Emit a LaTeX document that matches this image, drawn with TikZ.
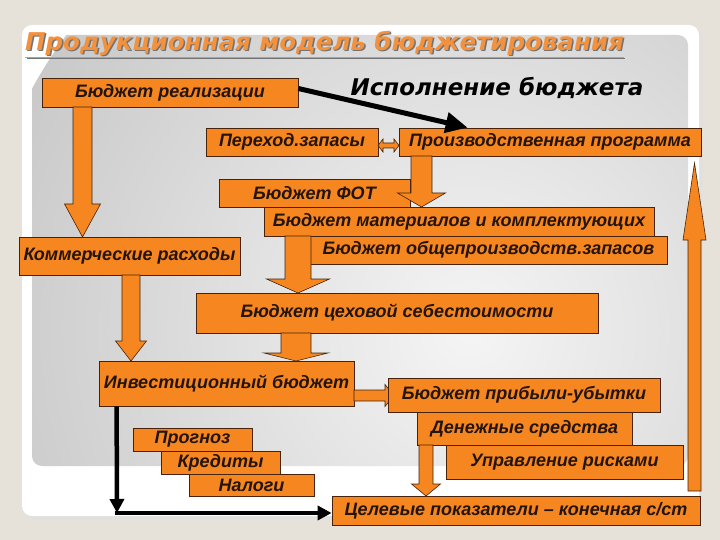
\documentclass[tikz,border=0pt]{standalone}
\usepackage{fontspec}
\setmainfont{Liberation Sans}
\newfontfamily\dejavu{DejaVu Sans}
\usetikzlibrary{arrows.meta,calc}
\definecolor{bg}{RGB}{230,225,217}
\definecolor{org}{RGB}{246,134,31}
\definecolor{edge}{RGB}{70,35,10}
\definecolor{txt}{RGB}{35,20,12}
\definecolor{ttl}{RGB}{243,146,62}
\newcommand\bx[6]{\node[box, minimum width={(#4-#2)*1pt}, minimum height={(#5-#3)*1pt}] (#1) at ({(#2+#4)/2},{(#3+#5)/2}) {#6};}
\newcommand\bdown[6]{\filldraw[barrow] ({#1-#4},#2) -- ({#1+#4},#2) -- ({#1+#4},{#3-#6}) -- ({#1+#5},{#3-#6}) -- (#1,#3) -- ({#1-#5},{#3-#6}) -- ({#1-#4},{#3-#6}) -- cycle;}
\newcommand\bup[6]{\filldraw[barrow] ({#1-#4},#2) -- ({#1+#4},#2) -- ({#1+#4},{#3+#6}) -- ({#1+#5},{#3+#6}) -- (#1,#3) -- ({#1-#5},{#3+#6}) -- ({#1-#4},{#3+#6}) -- cycle;}
\newcommand\bright[6]{\filldraw[barrow] (#2,{#1-#4}) -- ({#3-#6},{#1-#4}) -- ({#3-#6},{#1-#5}) -- (#3,#1) -- ({#3-#6},{#1+#5}) -- ({#3-#6},{#1+#4}) -- (#2,{#1+#4}) -- cycle;}
\begin{document}
\begin{tikzpicture}[x=1pt,y=-1pt,
 box/.style={draw=edge, line width=0.8pt, fill=org, text=txt, font=\fontsize{18}{20}\selectfont\bfseries\itshape, inner sep=0pt},
 barrow/.style={fill=org, draw=edge, line width=0.6pt},
 blk/.style={draw=black, line width=4.5pt, -{Triangle[length=14pt,width=14pt]}}]
\useasboundingbox (0,0) rectangle (720,540);
\fill[bg] (0,0) rectangle (720,540);
\fill[black!12, rounded corners=10pt] (24,28) rectangle (702,519);
\fill[white, rounded corners=10pt] (22,25) rectangle (699,516);
\begin{scope}
\clip[rounded corners=10pt] (32,35) rectangle (688,466);
\shade[inner color=gray!8, outer color=gray!42] (470,330) circle (500pt);
\end{scope}
% title
\node[anchor=west, font=\dejavu\fontsize{24.5}{27}\selectfont\bfseries\itshape, text=black!55, inner sep=0pt] at (26.5,45.5) {\underline{Продукционная модель бюджетирования}};
\node[anchor=west, font=\dejavu\fontsize{24.5}{27}\selectfont\bfseries\itshape, text=ttl, inner sep=0pt] (title) at (25,44) {\underline{Продукционная модель бюджетирования}};
\node[font=\dejavu\fontsize{23}{26}\selectfont\bfseries\itshape, text=black, inner sep=0pt] (isp) at (497,88) {Исполнение бюджета};
% boxes
\bx{real}{42}{78}{298}{107}{Бюджет реализации}
\bx{perex}{206}{128}{378}{156}{Переход.запасы}
\bx{prod}{399}{128}{701}{156}{Производственная программа}
\filldraw[barrow] (378,145.5) -- (383,139) -- (383,143) -- (394,143) -- (394,139) -- (399,145.5) -- (394,152) -- (394,148) -- (383,148) -- (383,152) -- cycle;
\bx{fot}{219}{179}{410}{207}{Бюджет ФОТ}
\bx{mat}{264}{207}{654}{236}{Бюджет материалов и комплектующих}
\bx{obsh}{310}{236}{667}{264}{Бюджет общепроизводств.запасов}
\bdown{421.5}{156}{207}{10.5}{24}{14}
\bdown{82.5}{107}{237}{9.5}{18}{33}
\bx{komm}{19}{237}{240}{275}{Коммерческие расходы}
\bdown{298}{236}{293}{13}{31.5}{14}
\bx{cex}{196}{293}{598}{333}{Бюджет цеховой себестоимости}
\bdown{131}{275}{361}{9}{15.5}{20}
\bdown{296}{333}{361}{15}{32}{8}
\bx{inv}{99}{361}{354}{406}{Инвестиционный бюджет}
\bright{395.5}{354}{394}{5.5}{11}{9}
\bx{prib}{388}{378}{660}{412}{Бюджет прибыли-убытки}
\bx{den}{417}{412}{632}{445}{Денежные средства}
\bx{upr}{446}{445}{683}{479}{Управление рисками}
\bdown{426}{445}{496}{7}{14.5}{12}
\bx{prog}{133}{428}{252}{451}{Прогноз}
\bx{kred}{161}{451}{280}{474}{Кредиты}
\bx{nal}{189}{474}{314}{496}{Налоги}
\bx{cel}{332}{496}{700}{525}{Целевые показатели – конечная с/ст}
\bup{694.5}{491}{163}{6.5}{11.5}{77}
% black arrows
\draw[draw=black, line width=5pt, -{Triangle[length=22pt,width=20pt]}] ($(real.east)+(0,-4)$) -- ($(prod.north west)+(69,0)$);
\coordinate (corner) at (117,513);
\draw[blk] ($(inv.south west)+(18,0)$) -- (corner);
\draw[blk] ($(corner)+(-2.25,0)$) -- (cel.west |- corner);
\end{tikzpicture}
\end{document}
